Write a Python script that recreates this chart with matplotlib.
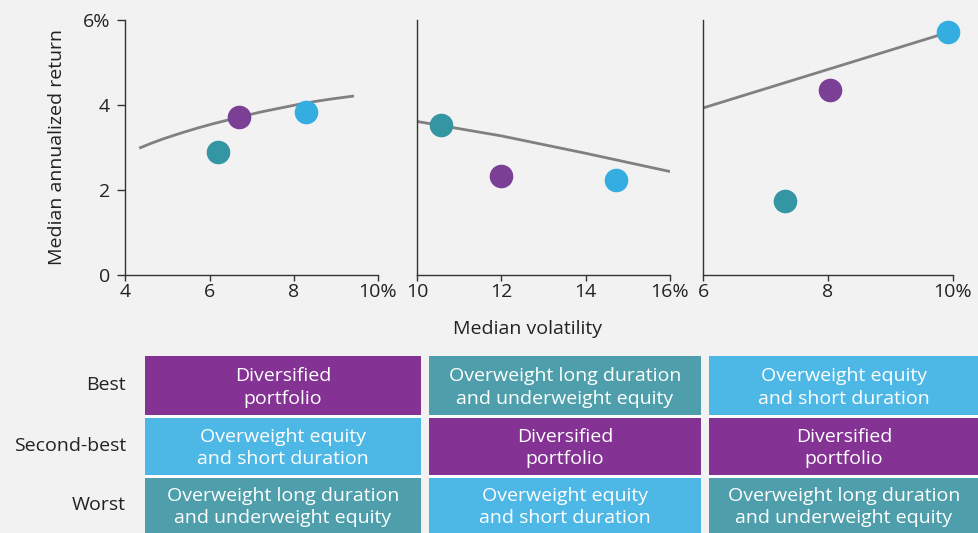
import matplotlib
matplotlib.use("Agg")
import matplotlib.pyplot as plt
from matplotlib.patches import Rectangle

plt.rcParams["font.family"] = ["Open Sans", "DejaVu Sans"]

BG = "#f2f2f2"
TXT = "#222222"
SPINE = "#333333"
FS = 14

# Marker colours per strategy
DOT = {"div": "#7b3f96", "long": "#3495a3", "eq": "#34ade0"}
# Table cell colours per strategy
CELL = {"div": "#853295", "long": "#4e9fab", "eq": "#4db7e6"}

strategies = ["div", "long", "eq"]

# Panel 1
p1_vol = {"div": 6.69, "long": 6.21, "eq": 8.29}
p1_ret = {"div": 3.72, "long": 2.88, "eq": 3.84}
p1_line_x = [4.33, 4.6, 4.9, 5.3, 5.7, 6.1, 6.5, 6.9, 7.3, 7.7, 8.1, 8.5, 8.9, 9.43]
p1_line_y = [2.98, 3.09, 3.20, 3.33, 3.45, 3.56, 3.66, 3.76, 3.85, 3.93, 4.01, 4.08, 4.14, 4.21]
p1_xticks = [4, 6, 8, 10]
p1_xlabels = ["4", "6", "8", "10%"]

# Panel 2
p2_vol = {"div": 12.0, "long": 10.57, "eq": 14.73}
p2_ret = {"div": 2.33, "long": 3.52, "eq": 2.23}
p2_line_x = [10, 12, 14, 16]
p2_line_y = [3.61, 3.27, 2.86, 2.43]
p2_xticks = [10, 12, 14, 16]
p2_xlabels = ["10", "12", "14", "16%"]

# Panel 3
p3_vol = {"div": 8.04, "long": 7.31, "eq": 9.93}
p3_ret = {"div": 4.35, "long": 1.73, "eq": 5.71}
p3_line_x = [6, 9.93]
p3_line_y = [3.93, 5.71]
p3_xticks = [6, 8, 10]
p3_xlabels = ["6", "8", "10%"]

yticks = [0, 2, 4, 6]
ylabels = ["0", "2", "4", "6%"]

# Ranking table
row_labels = ["Best", "Second-best", "Worst"]
names = {
    "div": "Diversified\nportfolio",
    "long": "Overweight long duration\nand underweight equity",
    "eq": "Overweight equity\nand short duration",
}
ranking = [
    ["div", "eq", "long"],
    ["long", "div", "eq"],
    ["eq", "div", "long"],
]

W, H = 979, 533
fig = plt.figure(figsize=(W / 100, H / 100), dpi=100, facecolor=BG)


def box(x0, y0, x1, y1):
    return [x0 / W, 1 - y1 / H, (x1 - x0) / W, (y1 - y0) / H]


panels = [
    (box(125.3, 20, 378, 274.7), p1_vol, p1_ret, p1_line_x, p1_line_y, p1_xticks, p1_xlabels, True),
    (box(417, 20, 670, 274.7), p2_vol, p2_ret, p2_line_x, p2_line_y, p2_xticks, p2_xlabels, False),
    (box(703.3, 20, 952.7, 274.7), p3_vol, p3_ret, p3_line_x, p3_line_y, p3_xticks, p3_xlabels, False),
]

for rect, vol, ret, lx, ly, xt, xl, first in panels:
    ax = fig.add_axes(rect)
    ax.set_facecolor(BG)
    ax.plot(lx, ly, color="#808080", lw=2.0, solid_capstyle="butt",
            solid_joinstyle="round", zorder=2)
    for s in strategies:
        ax.plot(vol[s], ret[s], "o", ms=17, color=DOT[s], mec="none", zorder=3, clip_on=False)
    ax.set_xlim(xt[0], xt[-1])
    ax.set_ylim(0, 6)
    ax.set_xticks(xt)
    ax.set_xticklabels(xl)
    for sp in ("top", "right"):
        ax.spines[sp].set_visible(False)
    for sp in ("left", "bottom"):
        ax.spines[sp].set_color(SPINE)
        ax.spines[sp].set_linewidth(1.0)
    ax.tick_params(axis="x", direction="out", length=4, width=1, color=SPINE,
                   labelsize=FS, labelcolor=TXT, pad=2)
    if first:
        ax.set_yticks(yticks)
        ax.set_yticklabels(ylabels)
        ax.tick_params(axis="y", direction="out", length=6, width=1, color=SPINE,
                       labelsize=FS, labelcolor=TXT, pad=5)
        ax.set_ylabel("Median annualized return", fontsize=FS, color=TXT, labelpad=12)
    else:
        ax.set_yticks([])

fig.text(527.7 / W, 1 - 329 / H, "Median volatility", fontsize=FS, color=TXT,
         ha="center", va="center")

# Table drawn in pixel space
tab = fig.add_axes([0, 0, 1, 1])
tab.set_xlim(0, W)
tab.set_ylim(H, 0)
tab.axis("off")

col_edges = [(145, 421), (429, 701), (709, 979)]
row_edges = [(356, 415), (417.7, 475), (477.7, 533)]

for (cx0, cx1) in col_edges:
    tab.add_patch(Rectangle((cx0, row_edges[0][0]), cx1 - cx0, H - row_edges[0][0],
                            facecolor="white", edgecolor="none"))

for ci, col in enumerate(ranking):
    cx0, cx1 = col_edges[ci]
    for ri, key in enumerate(col):
        ry0, ry1 = row_edges[ri]
        tab.add_patch(Rectangle((cx0, ry0), cx1 - cx0, ry1 - ry0,
                                facecolor=CELL[key], edgecolor="none"))
        tab.text((cx0 + cx1) / 2, (ry0 + ry1) / 2 + 2, names[key], color="white",
                 fontsize=FS, ha="center", va="center", linespacing=1.3)

for ri, lab in enumerate(row_labels):
    ry0, ry1 = row_edges[ri]
    tab.text(126, (ry0 + ry1) / 2, lab, color=TXT, fontsize=FS, ha="right", va="center")

fig.savefig("out.png", dpi=100, facecolor=BG)
